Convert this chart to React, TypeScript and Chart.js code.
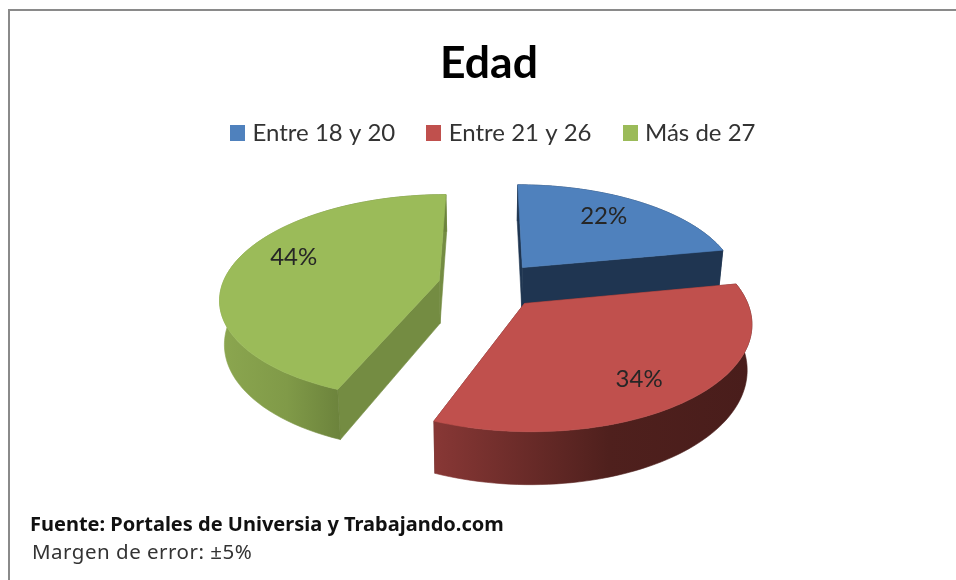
import React, { useEffect, useRef } from "react";
import { Chart, registerables } from "chart.js";

Chart.register(...registerables);

const categories = ["Entre 18 y 20", "Entre 21 y 26", "Más de 27"];
const shares = [22, 34, 44];
const sliceColors = ["#4f81bd", "#c0504d", "#9bbb59"];
const sideColors = ["#1f3551", "#5c2422", "#748c42"];
const labelNudgeDeg = [-2, 3.5, 8];
const labelReach = [0.74, 0.78, 0.75];
const sliceShiftX = [3.5, 3.5, 0];

const FONT = "Lato, sans-serif";
const CX = 488, CY = 285, RADIUS = 217, EXPLODE = 50;
const TILT = 0.466, PERSP = 0.000737, DEPTH = 43, CONVERGE = 0.982;

function project(X: number, Y: number, low = false) {
  const s = 1 / (1 - PERSP * Y);
  return {
    x: CX + X * s * (low ? CONVERGE : 1),
    y: CY + TILT * Y * s + (low ? DEPTH * s : 0),
  };
}

function poly(ctx: CanvasRenderingContext2D, pts: { x: number; y: number }[], fill: string | CanvasGradient) {
  ctx.beginPath();
  pts.forEach((p, i) => (i ? ctx.lineTo(p.x, p.y) : ctx.moveTo(p.x, p.y)));
  ctx.closePath();
  ctx.fillStyle = fill;
  ctx.strokeStyle = fill;
  ctx.lineWidth = 0.6;
  ctx.fill();
  ctx.stroke();
}

const rimShades: [number, number, [number, string][]][] = [
  [520, 725, [[0, "#1f3551"], [1, "#1f3551"]]],
  [436, 750, [[0, "#873735"], [0.55, "#4f201d"], [1, "#491d1b"]]],
  [222, 340, [[0, "#8ba64f"], [0.55, "#809a48"], [1, "#6c833c"]]],
];

const pie3d = {
  id: "pie3d",
  afterLayout(chart: any) {
    chart.legend.left += 6;
    chart.legend.right += 6;
    chart.legend.top -= 4.5;
    chart.legend.bottom -= 4.5;
  },
  beforeDraw(chart: any) {
    const { ctx, width, height } = chart;
    ctx.save();
    ctx.fillStyle = "#ffffff";
    ctx.fillRect(0, 0, width, height);
    ctx.fillStyle = "#8a8a8a";
    ctx.fillRect(8, 9, width - 8, 2);
    ctx.fillRect(8, 9, 2, height - 9);
    ctx.restore();
  },
  beforeDatasetDraw(chart: any) {
    const { ctx } = chart;
    const arcs = chart.getDatasetMeta(0).data;
    ctx.save();
    [0, 2, 1].forEach((i) => {
      const a = arcs[i];
      const mid = (a.startAngle + a.endAngle) / 2;
      const ax = EXPLODE * Math.cos(mid) + sliceShiftX[i], ay = EXPLODE * Math.sin(mid);
      const rim: [number, number][] = [];
      const n = 72;
      for (let k = 0; k <= n; k++) {
        const t = a.startAngle + ((a.endAngle - a.startAngle) * k) / n;
        rim.push([ax + RADIUS * Math.cos(t), ay + RADIUS * Math.sin(t)]);
      }
      const first = rim[0], last = rim[n];
      poly(ctx, [project(ax, ay), project(first[0], first[1]), project(first[0], first[1], true), project(ax, ay, true)], sideColors[i]);
      poly(ctx, [project(ax, ay), project(last[0], last[1]), project(last[0], last[1], true), project(ax, ay, true)], sideColors[i]);
      const [g0, g1, stops] = rimShades[i];
      const grad = ctx.createLinearGradient(g0, 0, g1, 0);
      stops.forEach(([o, c]) => grad.addColorStop(o, c));
      poly(ctx, [...rim.map((p) => project(p[0], p[1])), ...rim.slice().reverse().map((p) => project(p[0], p[1], true))], grad);
      poly(ctx, [project(ax, ay), ...rim.map((p) => project(p[0], p[1]))], sliceColors[i]);
    });
    ctx.font = `24px ${FONT}`;
    ctx.fillStyle = "#262626";
    ctx.textAlign = "center";
    ctx.textBaseline = "middle";
    arcs.forEach((a: any, i: number) => {
      const mid = (a.startAngle + a.endAngle) / 2;
      const t = mid + (labelNudgeDeg[i] * Math.PI) / 180;
      const X = EXPLODE * Math.cos(mid) + labelReach[i] * RADIUS * Math.cos(t);
      const Y = EXPLODE * Math.sin(mid) + labelReach[i] * RADIUS * Math.sin(t);
      const p = project(X, Y);
      ctx.fillText(`${shares[i]}%`, p.x, p.y);
    });
    ctx.restore();
    return false;
  },
  afterDraw(chart: any) {
    const { ctx } = chart;
    ctx.save();
    ctx.textAlign = "left";
    ctx.textBaseline = "middle";
    ctx.fillStyle = "#111111";
    ctx.font = `bold 20px "Noto Sans", sans-serif`;
    (ctx as any).letterSpacing = "0px";
    ctx.fillText("Fuente: Portales de Universia y Trabajando.com", 30, 525);
    ctx.fillStyle = "#333333";
    ctx.font = `20.5px "Noto Sans", sans-serif`;
    (ctx as any).letterSpacing = "0.5px";
    ctx.fillText("Margen de error: ±5%", 32, 553);
    ctx.restore();
  },
};

function swatch(color: string) {
  const c = document.createElement("canvas");
  c.width = 15;
  c.height = 16;
  const g = c.getContext("2d")!;
  g.fillStyle = color;
  g.fillRect(0, 0, 15, 16);
  return c;
}

export default function App() {
  const ref = useRef<HTMLCanvasElement>(null);
  useEffect(() => {
    const chart = new Chart(ref.current!, {
      type: "pie",
      data: {
        labels: categories,
        datasets: [{ data: shares, backgroundColor: sliceColors, borderWidth: 0 }],
      },
      plugins: [pie3d],
      options: {
        responsive: false,
        animation: false,
        layout: { padding: { left: 22 } },
        plugins: {
          tooltip: { enabled: false },
          title: {
            display: true,
            text: "Edad",
            color: "#000000",
            font: { family: FONT, size: 44.5, weight: "bold", lineHeight: 1.2 },
            padding: { top: 37, bottom: 0 },
          },
          legend: {
            display: true,
            position: "top",
            labels: {
              color: "#333333",
              font: { family: FONT, size: 24 },
              boxWidth: 6,
              usePointStyle: true,
              padding: 35.5,
              generateLabels: () =>
                categories.map((text, i) => ({
                  text,
                  fillStyle: sliceColors[i],
                  strokeStyle: sliceColors[i],
                  lineWidth: 0,
                  pointStyle: swatch(sliceColors[i]),
                  hidden: false,
                  index: i,
                  fontColor: "#333333",
                })),
            },
          },
        },
      },
    } as any);
    return () => chart.destroy();
  }, []);
  return (
    <canvas
      ref={ref}
      width={956}
      height={580}
      style={{ position: "fixed", left: 0, top: 0, display: "block" }}
    />
  );
}
